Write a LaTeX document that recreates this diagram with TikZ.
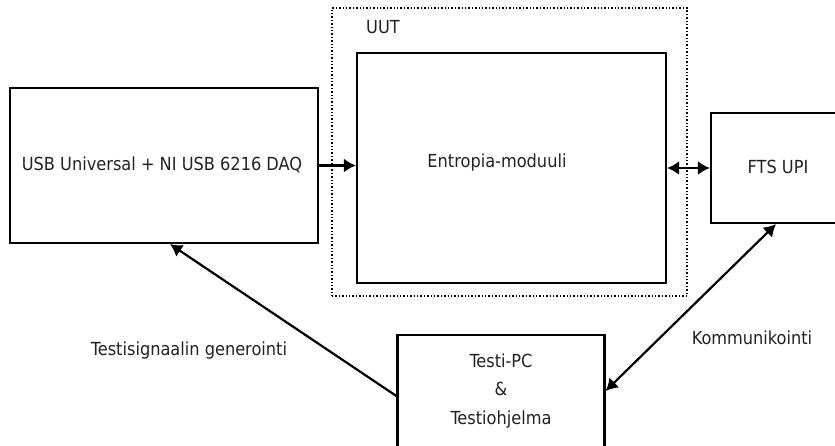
\documentclass[tikz,border=0pt]{standalone}
\usepackage{fontspec}
\setmainfont{DejaVu Sans Condensed}
\usetikzlibrary{arrows.meta}
\definecolor{txt}{HTML}{222222}
\tikzset{
  box/.style={draw=black, line width=2.2pt, inner sep=0pt},
  lbl/.style={text=txt, font=\fontsize{18}{28.5}\selectfont, inner sep=0pt, align=center},
  arr/.style={line width=2.2pt, -{Latex[length=12pt,width=14pt]}},
  darr/.style={line width=2.2pt, {Latex[length=12pt,width=14pt]}-{Latex[length=12pt,width=14pt]}},
}
\begin{document}
\begin{tikzpicture}[x=1pt,y=-1pt]
\useasboundingbox (0,0) rectangle (835,445);
\clip (0,0) rectangle (835,445);
\fill[white] (0,0) rectangle (835,445);
% UUT dotted frame
\node[draw=black, dotted, line width=1.4pt, minimum width=355pt, minimum height=288pt, inner sep=0pt] (uut) at (509.5,152) {};
\node[lbl, anchor=west] (uutlbl) at (366,27) {UUT};
% boxes
\node[box, minimum width=308pt, minimum height=155pt] (daq) at (164,165.5) {};
\node[lbl] (daqtxt) at (162,165) {USB Universal + NI USB 6216 DAQ};
\node[box, minimum width=309pt, minimum height=230pt] (ent) at (511.5,168) {};
\node[lbl] (enttxt) at (497,163) {Entropia-moduuli};
\node[box, minimum width=134pt, minimum height=110pt] (fts) at (778,168) {};
\node[lbl] (ftstxt) at (778,167) {FTS UPI};
\node[box, minimum width=207pt, minimum height=112pt] (pc) at (501,391) {};
\node[lbl] (pctxt) at (501,391) {Testi-PC\\\&\\Testiohjelma};
% connectors
\draw[arr] (daq.east) -- (daq.east -| ent.west);
\draw[darr] (ent.east) -- (ent.east -| fts.west);
\draw[arr] ([yshift=-5pt]pc.west) -- ([xshift=6pt]daq.south);
\draw[darr] ([xshift=-2pt]fts.south) -- (pc.east);
% labels
\node[lbl] (gen) at (189,351) {Testisignaalin generointi};
\node[lbl] (kom) at (752,338) {Kommunikointi};
\end{tikzpicture}
\end{document}
